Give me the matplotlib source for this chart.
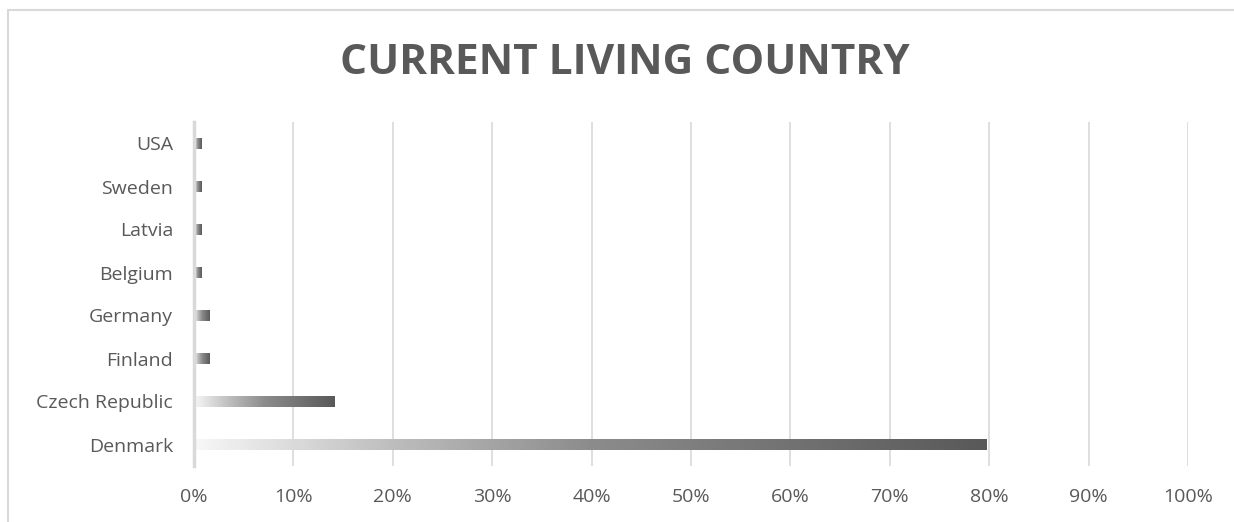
import numpy as np
import matplotlib
matplotlib.use("Agg")
import matplotlib.pyplot as plt
from matplotlib.colors import LinearSegmentedColormap
from matplotlib.ticker import FuncFormatter
from matplotlib.lines import Line2D

countries = ["Denmark", "Czech Republic", "Finland", "Germany", "Belgium", "Latvia", "Sweden", "USA"]
shares = [79.7, 14.1, 1.6, 1.6, 0.8, 0.8, 0.8, 0.8]
xticks = [0, 10, 20, 30, 40, 50, 60, 70, 80, 90, 100]
title = "CURRENT LIVING COUNTRY"

fig = plt.figure(figsize=(12.34, 5.22), dpi=100)
ax = fig.add_axes([194/1234, 1-466/522, (1188-194)/1234, (466-122)/522])

# chart border (top and left only visible)
fig.lines.append(Line2D([8/1234, 1.0], [1-9.5/522, 1-9.5/522], transform=fig.transFigure,
                        color="#d9d9d9", linewidth=1.5))
fig.lines.append(Line2D([8/1234, 8/1234], [0, 1-9.5/522], transform=fig.transFigure,
                        color="#d9d9d9", linewidth=1.5))

ypos = np.arange(len(countries))
bars = ax.barh(ypos, shares, height=0.26, color="none", edgecolor="none")

cmap = LinearSegmentedColormap.from_list(
    "g", [(0.0, "#f7f7f7"), (0.25, "#bdbdbd"), (0.5, "#8c8c8c"), (1.0, "#595959")])
grad = np.linspace(0, 1, 256).reshape(1, -1)
for b in bars:
    x0, y0 = b.get_x(), b.get_y()
    w, h = b.get_width(), b.get_height()
    im = ax.imshow(grad, cmap=cmap, aspect="auto",
                   extent=(x0, x0 + w, y0, y0 + h), zorder=3, interpolation="bilinear")
    im.set_clip_path(b)

ax.set_xlim(0, 100)
ax.set_ylim(-0.5, len(countries) - 0.5)
ax.set_xticks(xticks)
ax.xaxis.set_major_formatter(FuncFormatter(lambda v, p: f"{int(v)}%"))
ax.set_yticks(ypos)
ax.set_yticklabels(countries)
ax.grid(axis="x", color="#d9d9d9", linewidth=1.2, zorder=0)
ax.set_axisbelow(True)
for s in ["top", "right", "bottom"]:
    ax.spines[s].set_visible(False)
ax.spines["left"].set_color("#d9d9d9")
ax.spines["left"].set_linewidth(2.5)
ax.spines["left"].set_zorder(4)
ax.tick_params(axis="both", length=0, labelsize=14, labelcolor="#595959")
ax.tick_params(axis="x", pad=16)
ax.tick_params(axis="y", pad=15)
for lab in ax.get_xticklabels() + ax.get_yticklabels():
    lab.set_fontfamily("Open Sans")

fig.text(0.506, 1-64/522, title, ha="center", va="center", fontsize=30.5,
         fontweight="bold", color="#595959", family="Open Sans")

fig.savefig("out.png", dpi=100)
